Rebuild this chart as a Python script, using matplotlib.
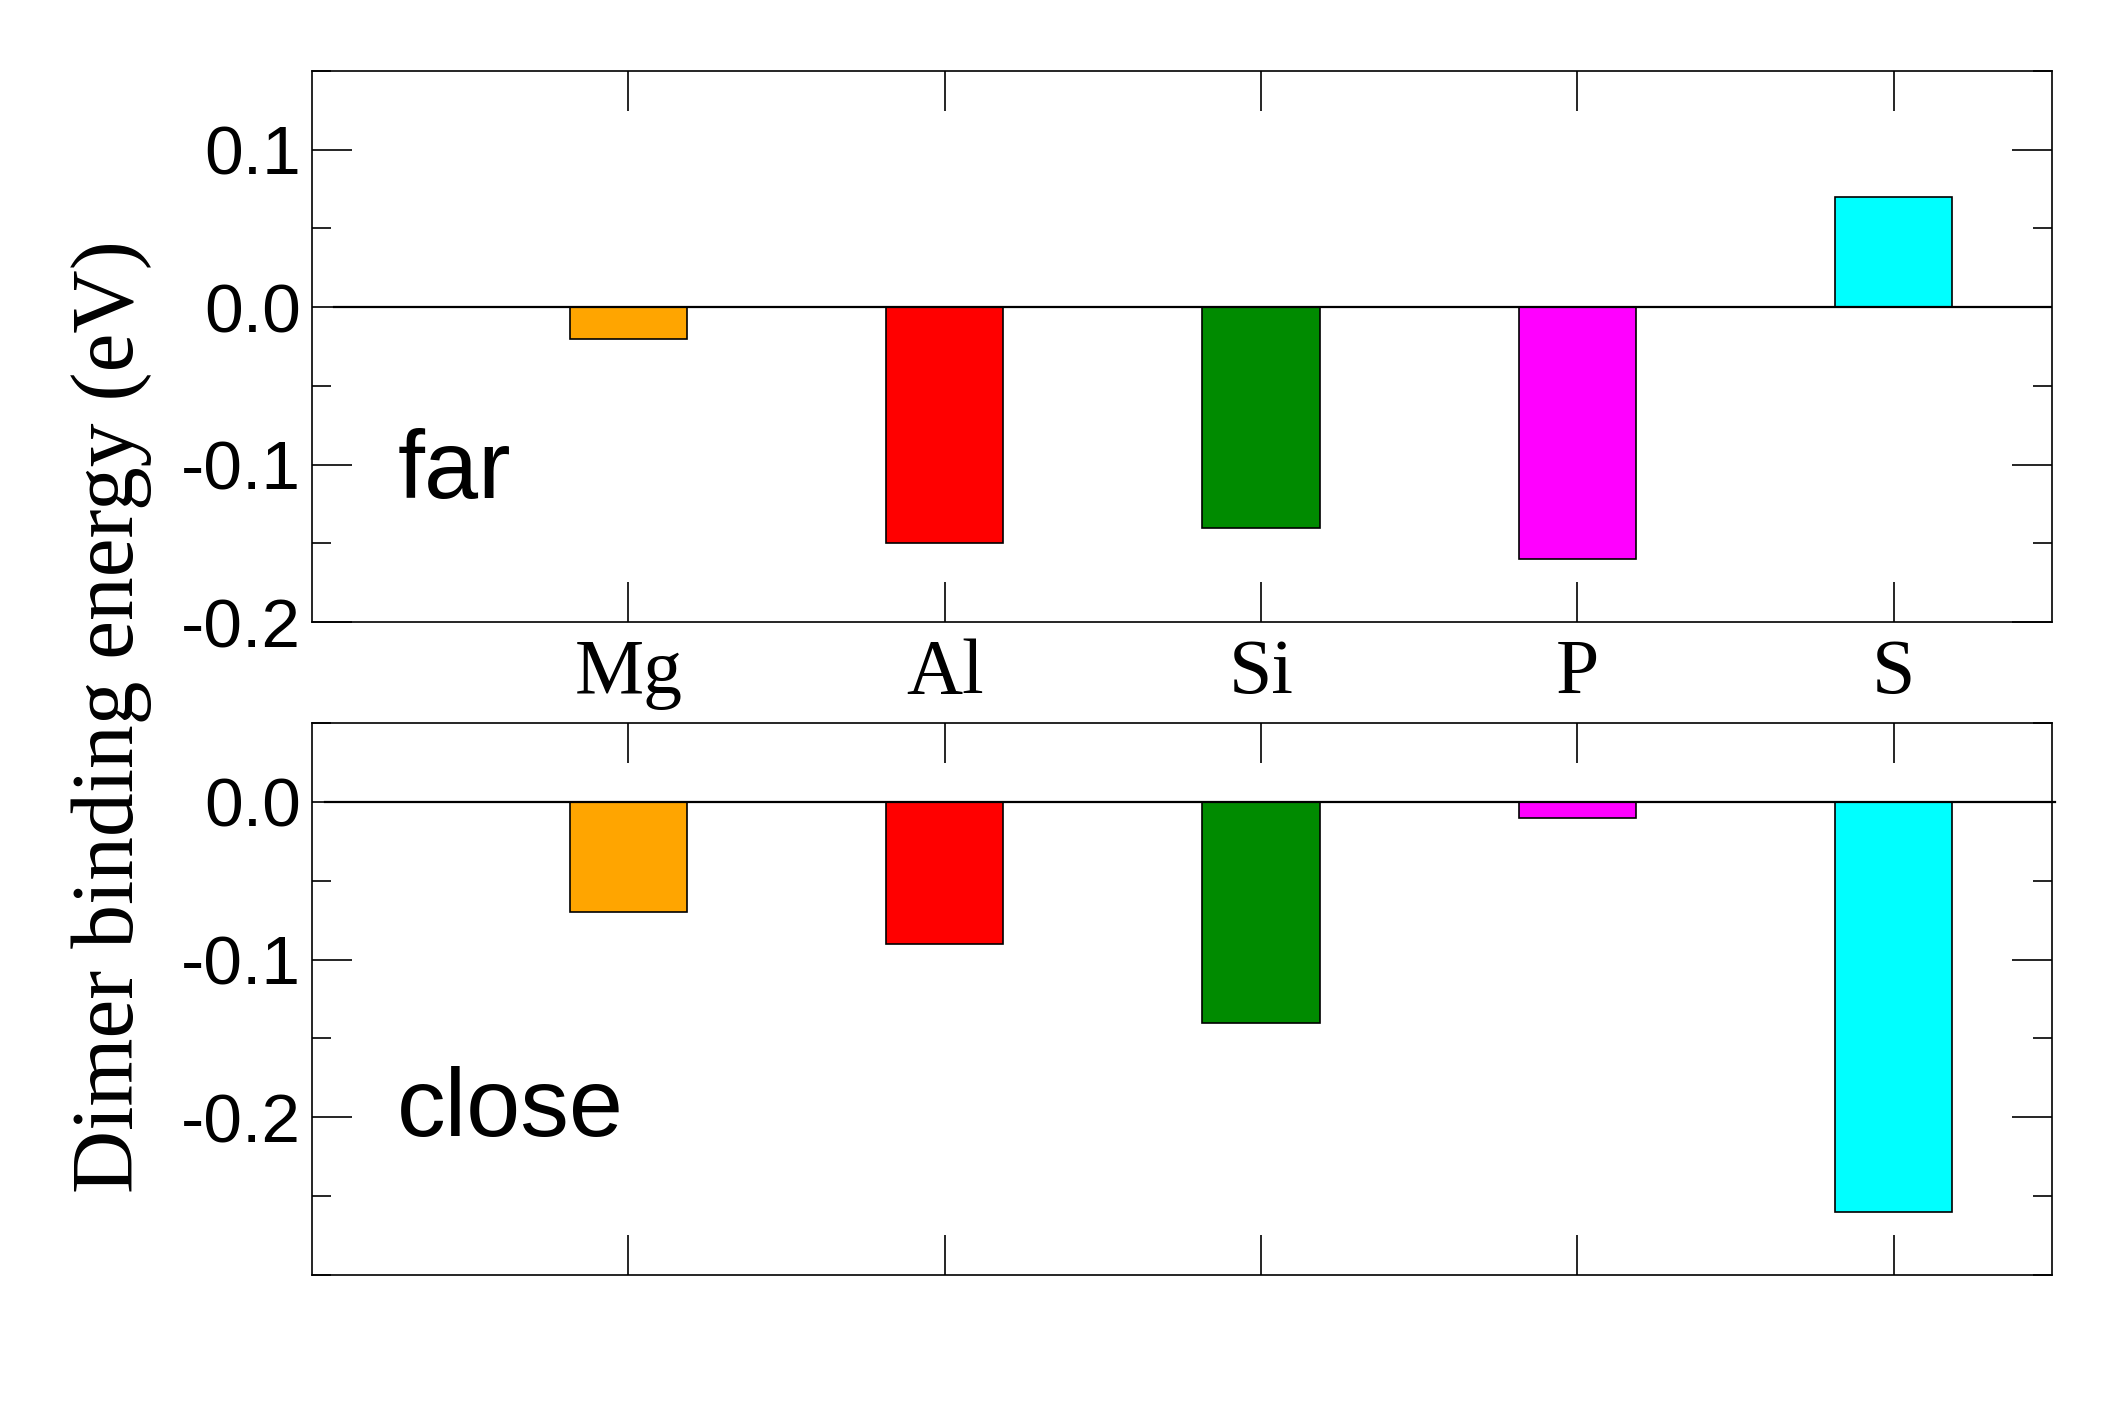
"""
Dimer binding energy bar chart, far vs close configuration
"""

import matplotlib
matplotlib.use("Agg")
import matplotlib.pyplot as plt
from matplotlib.ticker import MultipleLocator

elements = ["Mg", "Al", "Si", "P", "S"]
positions = [1, 2, 3, 4, 5]
colors = ["#ffa500", "#ff0000", "#008b00", "#ff00ff", "#00ffff"]
far_energy = [-0.02, -0.15, -0.14, -0.16, 0.07]
close_energy = [-0.07, -0.09, -0.14, -0.01, -0.26]

sans = ["Liberation Sans", "DejaVu Sans"]
serif = ["Liberation Serif", "DejaVu Serif"]

fig = plt.figure(figsize=(21.25, 14.17), dpi=100)
ax_far = fig.add_axes([0.1468, 0.561, 0.8188, 0.3889])
ax_close = fig.add_axes([0.1468, 0.1002, 0.8188, 0.3896])


def style_axis(ax, ylim, yticks):
    ax.set_xlim(0, 5.5)
    ax.set_ylim(*ylim)
    ax.set_xticks(positions)
    ax.set_yticks(yticks)
    ax.yaxis.set_minor_locator(MultipleLocator(0.05))
    for sp in ax.spines.values():
        sp.set_linewidth(1.2)
    ax.tick_params(which="both", direction="in", top=True, right=True, width=1.2)
    ax.tick_params(which="major", length=29)
    ax.tick_params(which="minor", length=14)
    ax.tick_params(axis="y", labelsize=50, pad=8)


# top panel: far
ax_far.bar(positions, far_energy, width=0.37, color=colors, edgecolor="black",
           linewidth=1.2, zorder=2)
ax_far.plot([0.07, 5.5], [0, 0], color="black", lw=1.6, zorder=3)
style_axis(ax_far, (-0.2, 0.15), [-0.2, -0.1, 0.0, 0.1])
ax_far.set_yticklabels(["-0.2", "-0.1", "0.0", "0.1"], family=sans)
ax_far.set_xticklabels(elements, family=serif, fontsize=56)
ax_far.tick_params(axis="x", pad=12)
ax_far.text(0.27, -0.121, "far", fontsize=70, family=sans, va="baseline")

# bottom panel: close
ax_close.bar(positions, close_energy, width=0.37, color=colors, edgecolor="black",
             linewidth=1.2, zorder=2)
ax_close.plot([0.04, 5.51], [0, 0], color="black", lw=1.6, zorder=3, clip_on=False)
style_axis(ax_close, (-0.3, 0.05), [-0.2, -0.1, 0.0])
ax_close.set_yticklabels(["-0.2", "-0.1", "0.0"], family=sans)
ax_close.set_xticklabels([])
ax_close.text(0.27, -0.212, "close", fontsize=70, family=sans, va="baseline")

fig.text(0.0527, 0.494, "Dimer binding energy (eV)", rotation=90, fontsize=63,
         family=serif, ha="center", va="center")

fig.savefig("out.png", dpi=100)
